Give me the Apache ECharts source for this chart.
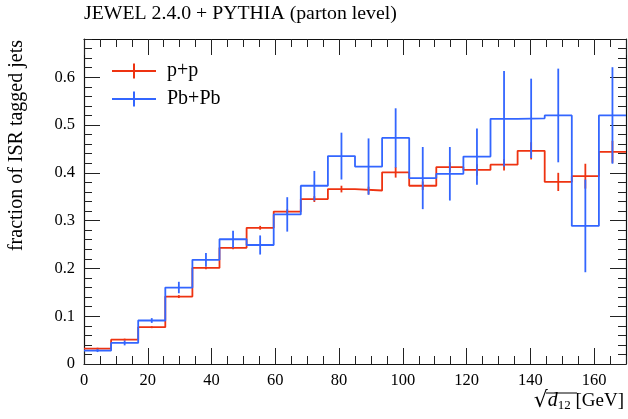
<!DOCTYPE html>
<html>
<head>
<meta charset="utf-8">
<script src="https://cdn.jsdelivr.net/npm/echarts@6/dist/echarts.min.js"></script>
<style>
html,body{margin:0;padding:0;background:#fff;}
#chart{width:628px;height:419px;}
</style>
</head>
<body>
<div id="chart"></div>
<script>
// ---- data ----
const binEdges = [0, 8.5, 17, 25.5, 34, 42.5, 51, 59.5, 68, 76.5, 85, 93.5, 102, 110.5, 119, 127.5, 136, 144.5, 153, 161.5, 170];
const ppValues = [0.032, 0.051, 0.077, 0.141, 0.201, 0.243, 0.285, 0.319, 0.345, 0.366, 0.363, 0.401, 0.373, 0.412, 0.406, 0.417, 0.446, 0.381, 0.393, 0.444];
const ppErrors = [0.002, 0.002, 0.002, 0.003, 0.003, 0.003, 0.004, 0.005, 0.006, 0.007, 0.008, 0.011, 0.009, 0.010, 0.012, 0.012, 0.018, 0.019, 0.026, 0.023];
const pbValues = [0.028, 0.044, 0.091, 0.160, 0.218, 0.261, 0.249, 0.313, 0.373, 0.435, 0.413, 0.473, 0.389, 0.398, 0.434, 0.513, 0.514, 0.520, 0.289, 0.520];
const pbErrors = [0.003, 0.005, 0.005, 0.012, 0.014, 0.018, 0.020, 0.036, 0.031, 0.049, 0.059, 0.062, 0.065, 0.056, 0.059, 0.100, 0.083, 0.098, 0.097, 0.101];
const seriesNames = ['p+p', 'Pb+Pb'];
const titleText = 'JEWEL 2.4.0 + PYTHIA (parton level)';
const yTitle = 'fraction of ISR tagged jets';
const xMin = 0, xMax = 170, xMajor = 20, xMinor = 5;
const yMin = 0, yMax = 0.68, yMajor = 0.1, yMinor = 0.02;

const RED = '#ee3311', BLUE = '#3366ff';
const FONT = 'Liberation Serif';

function stepData(vals) {
  const d = vals.map((v, i) => [binEdges[i], v]);
  d.push([binEdges[binEdges.length - 1], vals[vals.length - 1]]);
  return d;
}
function errData(vals, errs) {
  return vals.map((v, i) => [(binEdges[i] + binEdges[i + 1]) / 2, v - errs[i], v + errs[i]]);
}
function errRender(color) {
  return function (params, api) {
    const p1 = api.coord([api.value(0), api.value(1)]);
    const p2 = api.coord([api.value(0), api.value(2)]);
    return {
      type: 'line',
      shape: {x1: p1[0], y1: p1[1], x2: p2[0], y2: p2[1]},
      style: {stroke: color, lineWidth: 1.8},
      silent: true
    };
  };
}

const tickColor = '#222';
function xAx(pos, interval, len, withLabels) {
  return {
    type: 'value', position: pos, min: xMin, max: xMax, interval: interval,
    axisLine: {show: withLabels !== undefined, onZero: false, lineStyle: {color: '#111', width: 1.2}},
    axisTick: {show: true, inside: true, length: len, lineStyle: {color: tickColor, width: 1}},
    axisLabel: withLabels ? {show: true, showMaxLabel: false, margin: 8, color: '#000', fontFamily: FONT, fontSize: 16.5} : {show: false},
    splitLine: {show: false}
  };
}
function yAx(pos, interval, len, withLabels) {
  return {
    type: 'value', position: pos, min: yMin, max: yMax, interval: interval,
    axisLine: {show: withLabels !== undefined, onZero: false, lineStyle: {color: '#111', width: 1.2}},
    axisTick: {show: true, inside: true, length: len, lineStyle: {color: tickColor, width: 1}},
    axisLabel: withLabels ? {show: true, showMaxLabel: false, margin: 9, color: '#000', fontFamily: FONT, fontSize: 16.5,
      formatter: v => (Math.round(v * 10) / 10).toString()} : {show: false},
    splitLine: {show: false}
  };
}

const legendIcon = 'path://M0,6.5 H44 V8.5 H0 Z M21,0 H23 V15 H21 Z';

const chart = echarts.init(document.getElementById('chart'), null, {renderer: 'canvas'});
chart.setOption({
  animation: false,
  backgroundColor: '#fff',
  grid: {left: 84, right: 2, top: 39, bottom: 55},
  title: {text: titleText, left: 84, top: 4, padding: 0, textStyle: {fontFamily: FONT, fontSize: 19.8, fontWeight: 'normal', color: '#000'}},
  legend: {
    orient: 'vertical', left: 112, top: 61, itemWidth: 44, itemHeight: 15, itemGap: 8, padding: 0,
    textStyle: {fontFamily: FONT, fontSize: 20, color: '#000', lineHeight: 19, padding: [0, 0, 0, 6]},
    data: [
      {name: seriesNames[0], icon: legendIcon, itemStyle: {color: RED}},
      {name: seriesNames[1], icon: legendIcon, itemStyle: {color: BLUE}}
    ]
  },
  xAxis: [
    xAx('bottom', xMajor, 16, true),
    xAx('bottom', xMinor, 8),
    xAx('top', xMajor, 16, false),
    xAx('top', xMinor, 8)
  ],
  yAxis: [
    yAx('left', yMajor, 16, true),
    yAx('left', yMinor, 8),
    yAx('right', yMajor, 16, false),
    yAx('right', yMinor, 8)
  ],
  graphic: [
    {type: 'text', x: 17, y: 40, rotation: Math.PI / 2,
      style: {text: yTitle, fontFamily: FONT, fontSize: 20, fill: '#000', textAlign: 'right', textVerticalAlign: 'middle'}},
    {type: 'text', right: 4, top: 390,
      style: {
        text: '{s|√}{d|d}{sub|12} [GeV]',
        fontFamily: FONT, fontSize: 19, fill: '#000',
        rich: {
          s: {fontFamily: 'DejaVu Serif', fontSize: 22},
          d: {fontStyle: 'italic', fontFamily: FONT, fontSize: 20},
          sub: {fontFamily: FONT, fontSize: 13, verticalAlign: 'bottom', padding: [8, 0, 0, 0]}
        }
      }},
    {type: 'line', shape: {x1: 546, y1: 393, x2: 577, y2: 393}, style: {stroke: '#000', lineWidth: 1}}
  ],
  series: [
    {name: seriesNames[0], type: 'line', step: 'end', data: stepData(ppValues), showSymbol: false,
      lineStyle: {color: RED, width: 1.8}, itemStyle: {color: RED}, z: 3},
    {name: seriesNames[0], type: 'custom', data: errData(ppValues, ppErrors), renderItem: errRender(RED), clip: true, z: 3},
    {name: seriesNames[1], type: 'line', step: 'end', data: stepData(pbValues), showSymbol: false,
      lineStyle: {color: BLUE, width: 1.8}, itemStyle: {color: BLUE}, z: 4},
    {name: seriesNames[1], type: 'custom', data: errData(pbValues, pbErrors), renderItem: errRender(BLUE), clip: true, z: 4}
  ]
});
</script>
</body>
</html>
